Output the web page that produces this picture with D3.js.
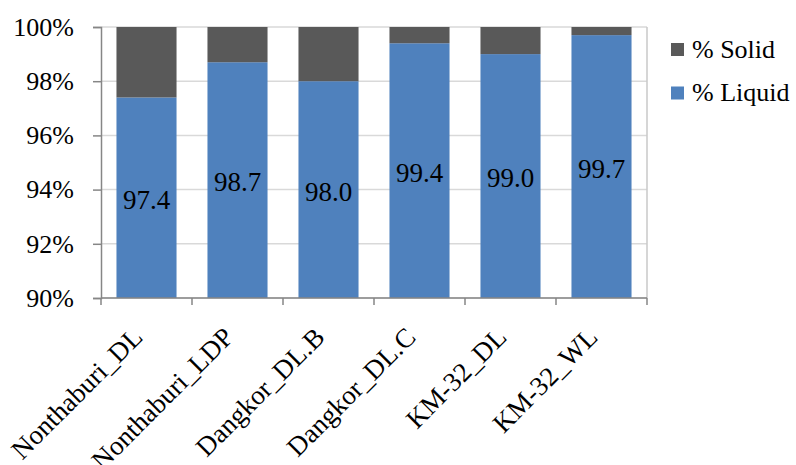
<!DOCTYPE html>
<html><head><meta charset="utf-8">
<script src="https://cdn.jsdelivr.net/npm/d3@7"></script>
<style>body{margin:0;background:#fff}svg{display:block}text{font-family:"Liberation Serif","Times New Roman",serif;fill:#000}</style>
</head><body><svg id="c" width="796" height="465"></svg>
<script>
const categories = ["Nonthaburi_DL","Nonthaburi_LDP","Dangkor_DL.B","Dangkor_DL.C","KM-32_DL","KM-32_WL"];
const liquid = [97.4, 98.7, 98.0, 99.4, 99.0, 99.7];
const solid = liquid.map(v => +(100 - v).toFixed(1));
const yTicks = [90, 92, 94, 96, 98, 100];
const seriesNames = ["% Solid", "% Liquid"];
const colors = {"% Solid": "#595959", "% Liquid": "#4f81bd"};

const svg = d3.select("#c");
const L = 101, R = 647, T = 27, B = 298;
const x = d3.scaleBand().domain(categories).range([L, R]).paddingInner(0.34).paddingOuter(0.17);
const y = d3.scaleLinear().domain([90, 100]).range([B, T]);
const fs = 26;

// gridlines
svg.append("g").selectAll("line").data(yTicks).join("line")
  .attr("x1", L).attr("x2", R).attr("y1", d => y(d)).attr("y2", d => y(d))
  .attr("stroke", "#d9d9d9").attr("stroke-width", 1.5);
// right border
svg.append("line").attr("x1", R).attr("x2", R).attr("y1", T).attr("y2", B).attr("stroke", "#c8c8c8").attr("stroke-width", 1.5);

const stack = categories.map((c, i) => ({c, liquid: liquid[i], solid: solid[i]}));
// liquid bars
svg.append("g").selectAll("rect").data(stack).join("rect")
  .attr("x", d => x(d.c)).attr("width", x.bandwidth())
  .attr("y", d => y(d.liquid)).attr("height", d => y(90) - y(d.liquid))
  .attr("fill", colors["% Liquid"]);
// solid bars
svg.append("g").selectAll("rect").data(stack).join("rect")
  .attr("x", d => x(d.c)).attr("width", x.bandwidth())
  .attr("y", d => y(100)).attr("height", d => y(d.liquid) - y(100))
  .attr("fill", colors["% Solid"]);

// data labels
svg.append("g").selectAll("text").data(stack).join("text")
  .attr("x", d => x(d.c) + x.bandwidth() / 2)
  .attr("y", d => (y(90) + y(d.liquid)) / 2)
  .attr("dy", "0.42em").attr("text-anchor", "middle")
  .style("font-size", "27px").text(d => d.liquid.toFixed(1));

// y axis
const ya = svg.append("g").attr("transform", `translate(${L},0)`)
  .call(d3.axisLeft(y).tickValues(yTicks).tickFormat(d => d + "%").tickSize(8).tickPadding(19));
ya.select(".domain").attr("stroke", "#868686").attr("stroke-width", 1.5);
ya.selectAll(".tick line").attr("stroke", "#868686").attr("stroke-width", 1.5);
ya.selectAll("text").style("font-size", fs + "px").style("font-family", '"Liberation Serif", serif');

// x axis
const xa = svg.append("g").attr("transform", `translate(0,${B})`);
xa.append("line").attr("x1", L).attr("x2", R).attr("stroke", "#868686").attr("stroke-width", 1.5);
const bounds = categories.map(c => x(c) - x.step() * x.paddingInner() / 2).concat([R]);
bounds[0] = L;
xa.selectAll("line.t").data(bounds).join("line").attr("class", "t")
  .attr("x1", d => d).attr("x2", d => d).attr("y1", 0).attr("y2", 7)
  .attr("stroke", "#868686").attr("stroke-width", 1.5);
xa.selectAll("text").data(categories).join("text")
  .attr("transform", d => `translate(${x(d) + x.bandwidth() / 2 - 9},${34}) rotate(-45)`)
  .attr("text-anchor", "end").attr("dy", "0.35em")
  .style("font-size", "27px").text(d => d);

// legend
const lg = svg.append("g").attr("transform", "translate(671,43)");
seriesNames.forEach((s, i) => {
  const g = lg.append("g").attr("transform", `translate(0,${i * 43.5})`);
  g.append("rect").attr("width", 13).attr("height", 13).attr("fill", colors[s]);
  g.append("text").attr("x", 21).attr("y", 14.5).style("font-size", fs + "px").text(s);
});
</script></body></html>
